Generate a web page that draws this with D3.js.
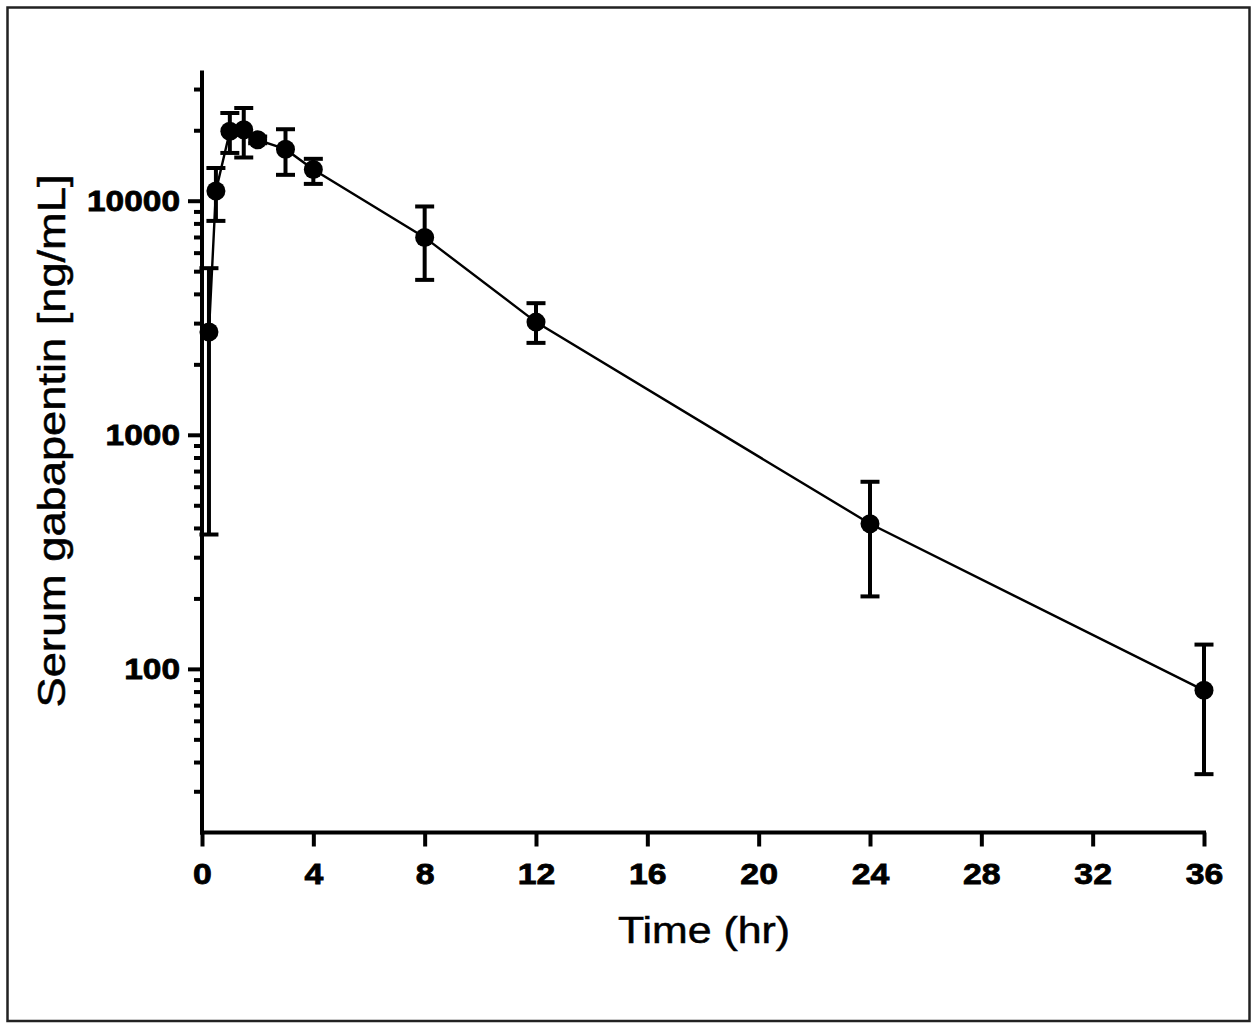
<!DOCTYPE html>
<html>
<head>
<meta charset="utf-8">
<script src="https://cdn.jsdelivr.net/npm/d3@7"></script>
<style>
  html, body { margin: 0; padding: 0; background: #fff; }
  svg { display: block; }
  text { font-family: "Liberation Sans", Arial, Helvetica, sans-serif; fill: #000; }
</style>
</head>
<body>
<svg id="chart" width="1258" height="1030"></svg>
<script>
// ---- data ----
const times   = [0.25, 0.5, 1, 1.5, 2, 3, 4, 8, 12, 24, 36];
const means   = [2750, 11000, 19800, 20100, 18200, 16600, 13600, 6970, 3030, 417, 81];
const uppers  = [5150, 13800, 23700, 24900, 18800, 20200, 15100, 9450, 3650, 630, 127];
const lowers  = [375, 8200, 16000, 15300, 17600, 12900, 11800, 4590, 2470, 204, 35.5];
const xTicks  = [0, 4, 8, 12, 16, 20, 24, 28, 32, 36];
const yMajor  = [100, 1000, 10000];
const yMinor  = [30, 40, 50, 60, 70, 80, 90, 200, 300, 400, 500, 600, 700, 800, 900,
                 2000, 3000, 4000, 5000, 6000, 7000, 8000, 9000, 20000, 30000];
const xTitle  = "Time (hr)";
const yTitle  = "Serum gabapentin [ng/mL]";

const svg = d3.select("#chart");

// outer frame
svg.append("rect")
  .attr("x", 7.5).attr("y", 7.5).attr("width", 1242).attr("height", 1013.5)
  .attr("fill", "none").attr("stroke", "#222").attr("stroke-width", 2.5);

const x = d3.scaleLinear().domain([0, 36]).range([202, 1204]);
const y = d3.scaleLog().domain([20, 36000]).range([832.5, 70.5]);

const axisW = 4;

// y axis minor ticks
const gMinor = svg.append("g").attr("transform", "translate(202,0)")
  .call(d3.axisLeft(y).tickValues(yMinor).tickSize(8).tickSizeOuter(0).tickFormat(""));
gMinor.select(".domain").remove();
gMinor.selectAll("line").attr("stroke", "#000").attr("stroke-width", axisW);

// y axis major ticks + labels
const gY = svg.append("g").attr("transform", "translate(202,0)")
  .call(d3.axisLeft(y).tickValues(yMajor).tickSize(14).tickSizeOuter(0)
        .tickPadding(8).tickFormat(d3.format("d")));
gY.select(".domain").attr("stroke", "#000").attr("stroke-width", axisW)
  .attr("d", `M0,${y.range()[1]}V${y.range()[0] + 2}`);
gY.selectAll("line").attr("stroke", "#000").attr("stroke-width", axisW);
gY.selectAll("text")
  .attr("font-size", 30).attr("font-weight", "bold")
  .attr("stroke", "#000").attr("stroke-width", 0.8)
  .attr("textLength", d => String(d).length * 18.6)
  .attr("lengthAdjust", "spacingAndGlyphs");

// x axis
const gX = svg.append("g").attr("transform", "translate(0,832.5)")
  .call(d3.axisBottom(x).tickValues(xTicks).tickSize(14).tickSizeOuter(0).tickPadding(16));
gX.select(".domain").attr("stroke", "#000").attr("stroke-width", axisW)
  .attr("d", `M${x(0) - 2},0H${x(36) + 2}`);
gX.selectAll("line").attr("stroke", "#000").attr("stroke-width", axisW);
gX.selectAll("text")
  .attr("font-size", 30).attr("font-weight", "bold")
  .attr("stroke", "#000").attr("stroke-width", 0.8)
  .attr("textLength", d => String(d).length * 18.8)
  .attr("lengthAdjust", "spacingAndGlyphs");

// titles
svg.append("text")
  .attr("x", 704).attr("y", 943)
  .attr("text-anchor", "middle").attr("font-size", 36)
  .attr("stroke", "#000").attr("stroke-width", 0.5)
  .attr("textLength", 172).attr("lengthAdjust", "spacingAndGlyphs")
  .text(xTitle);

svg.append("text")
  .attr("transform", "translate(65,441) rotate(-90)")
  .attr("text-anchor", "middle").attr("font-size", 38)
  .attr("stroke", "#000").attr("stroke-width", 0.5)
  .attr("textLength", 533).attr("lengthAdjust", "spacingAndGlyphs")
  .text(yTitle);

const data = times.map((t, i) => ({ t, m: means[i], hi: uppers[i], lo: lowers[i] }));

// connecting line
svg.append("path")
  .datum(data)
  .attr("fill", "none").attr("stroke", "#000").attr("stroke-width", 2.4)
  .attr("d", d3.line().x(d => x(d.t)).y(d => y(d.m)));

// error bars
const capW = 9.5;
const eb = svg.append("g").attr("stroke", "#000").attr("stroke-width", 4);
eb.selectAll("line.v").data(data).join("line").attr("class", "v")
  .attr("x1", d => x(d.t)).attr("x2", d => x(d.t))
  .attr("y1", d => y(d.hi)).attr("y2", d => y(d.lo));
eb.selectAll("line.hi").data(data).join("line").attr("class", "hi")
  .attr("x1", d => x(d.t) - capW).attr("x2", d => x(d.t) + capW)
  .attr("y1", d => y(d.hi)).attr("y2", d => y(d.hi));
eb.selectAll("line.lo").data(data).join("line").attr("class", "lo")
  .attr("x1", d => x(d.t) - capW).attr("x2", d => x(d.t) + capW)
  .attr("y1", d => y(d.lo)).attr("y2", d => y(d.lo));

// points
svg.append("g").selectAll("circle").data(data).join("circle")
  .attr("cx", d => x(d.t)).attr("cy", d => y(d.m)).attr("r", 9.5)
  .attr("fill", "#000");
</script>
</body>
</html>
